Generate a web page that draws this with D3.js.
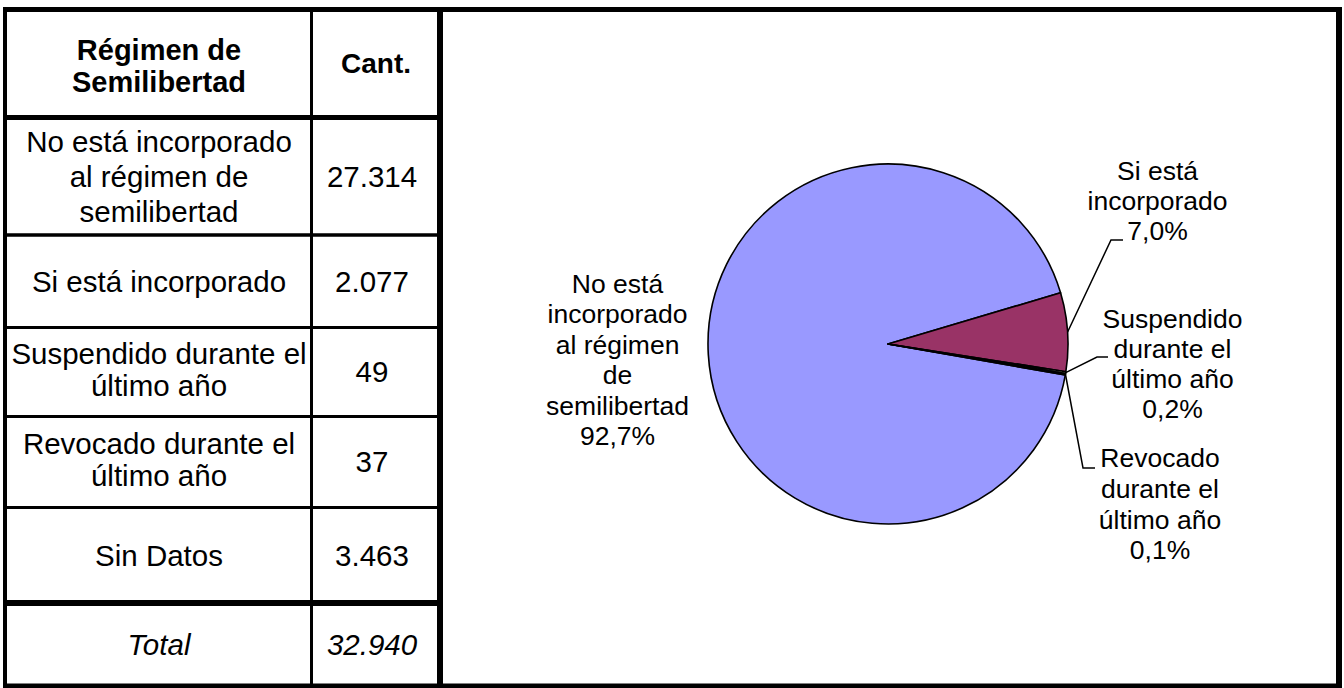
<!DOCTYPE html>
<html>
<head>
<meta charset="utf-8">
<script src="https://cdn.jsdelivr.net/npm/d3@7"></script>
<style>
  html, body { margin: 0; padding: 0; background: #fff; }
  svg { display: block; font-family: "Liberation Sans", Arial, sans-serif; }
</style>
</head>
<body>
<svg id="chart" width="1344" height="688"></svg>
<script>
// ---- data ----
const headerLabels = [["Régimen de", "Semilibertad"], ["Cant."]];
const rowLabels = [
  ["No está incorporado", "al régimen de", "semilibertad"],
  ["Si está incorporado"],
  ["Suspendido durante el", "último año"],
  ["Revocado durante el", "último año"],
  ["Sin Datos"]
];
const rowValues = [27314, 2077, 49, 37, 3463];
const totalLabel = "Total";
const pieCategories = [
  ["No está", "incorporado", "al régimen", "de", "semilibertad"],
  ["Si está", "incorporado"],
  ["Suspendido", "durante el", "último año"],
  ["Revocado", "durante el", "último año"]
];
const pieValues = [27314, 2077, 49, 37];
const pieColors = ["#9999FF", "#993366", "#FFFFCC", "#CCFFFF"];

// ---- helpers ----
const loc = d3.formatLocale({decimal: ",", thousands: ".", grouping: [3], currency: ["", ""]});
const fmtInt = loc.format(",d");
const fmtPct = loc.format(".1%");

const svg = d3.select("#chart");

// ---- table layout ----
const colX = [5, 311.5, 440];
const rowY = [9.5, 117.5, 235, 327.5, 416.5, 507.5, 603, 686];
const lineW = [5, 5, 3.5, 3, 3, 3, 6, 5];
const col1C = 159, col2C = 372;

const gT = svg.append("g");

function multiLine(g, lines, x, cy, lh, opts) {
  const n = lines.length;
  const t = g.append("text")
    .attr("text-anchor", "middle")
    .attr("font-size", opts.size)
    .attr("font-weight", opts.weight || "normal")
    .attr("font-style", opts.style || "normal")
    .attr("fill", "#000");
  lines.forEach((s, i) => {
    t.append("tspan")
      .attr("x", x)
      .attr("y", cy + (i - (n - 1) / 2) * lh)
      .attr("dy", "0.35em")
      .text(s);
  });
  return t;
}

// header
const hc = (rowY[0] + rowY[1]) / 2;
multiLine(gT, headerLabels[0], col1C, hc + 2.5, 32, {size: 29, weight: "bold"});
multiLine(gT, headerLabels[1], col2C + 4, hc, 32, {size: 28, weight: "bold"});

rowLabels.forEach((lines, i) => {
  const cy = (rowY[i + 1] + rowY[i + 2]) / 2;
  const lh = lines.length >= 3 ? 35 : 32;
  const off = lines.length === 2 ? -2 : 0;
  multiLine(gT, lines, col1C, cy + off, lh, {size: 29.5});
  multiLine(gT, [fmtInt(rowValues[i])], col2C, cy, lh, {size: 29.5});
});
const total = d3.sum(rowValues);
const tc = (rowY[6] + rowY[7]) / 2;
multiLine(gT, [totalLabel], col1C, tc, 32, {size: 29.5, style: "italic"});
multiLine(gT, [fmtInt(total)], col2C, tc, 32, {size: 29.5, style: "italic"});

// ---- pie ----
const cx = 888, cy = 344, R = 180;
const a0 = -260.1 * Math.PI / 180;
const pie = d3.pie().sort(null).startAngle(a0).endAngle(a0 + 2 * Math.PI);
const arcs = pie(pieValues);
const arc = d3.arc().innerRadius(0).outerRadius(R);
const arcEdge = d3.arc().innerRadius(R).outerRadius(R);
const pieSum = d3.sum(pieValues);

const gP = svg.append("g").attr("transform", `translate(${cx},${cy})`);
gP.selectAll("path.slice")
  .data(arcs)
  .join("path")
  .attr("class", "slice")
  .attr("d", arc)
  .attr("fill", (d, i) => pieColors[i])
  .attr("stroke", "#000")
  .attr("stroke-width", 1.6)
  .attr("stroke-linejoin", "round");

const labelLayout = [
  {x: -270.5, y: -51, lh: 30.4, leader: null},
  {x: 269.5, y: -164, lh: 30, leader: [[223, -104], [235, -104]]},
  {x: 284.5, y: -16, lh: 30, leader: [[209, 13], [220, 13]]},
  {x: 272, y: 123.3, lh: 30.6, leader: [[195, 124], [207, 124]]}
];

arcs.forEach((d, i) => {
  const L = labelLayout[i];
  const lines = pieCategories[i].concat([fmtPct(d.value / pieSum)]);
  const t = gP.append("text")
    .attr("text-anchor", "middle")
    .attr("font-size", 26.5)
    .attr("fill", "#000");
  lines.forEach((s, k) => {
    t.append("tspan").attr("x", L.x).attr("y", L.y + k * L.lh).text(s);
  });
  if (L.leader) {
    const p0 = arcEdge.centroid(d);
    const pts = [p0].concat(L.leader);
    gP.append("path")
      .attr("d", d3.line()(pts))
      .attr("fill", "none")
      .attr("stroke", "#000")
      .attr("stroke-width", 1.5);
  }
});

// ---- borders ----
const gB = svg.append("g");
rowY.forEach((y, i) => {
  const full = (i === 0 || i === rowY.length - 1);
  gB.append("rect")
    .attr("x", full ? 3 : colX[0])
    .attr("width", full ? 1339 : colX[2] - colX[0])
    .attr("y", y - lineW[i] / 2)
    .attr("height", lineW[i])
    .attr("fill", "#000");
});
[[5, 4], [311.5, 3], [440, 6], [1339, 6]].forEach(([x, w]) => {
  gB.append("rect")
    .attr("x", x - w / 2).attr("width", w)
    .attr("y", 7).attr("height", 681)
    .attr("fill", "#000");
});
</script>
</body>
</html>
